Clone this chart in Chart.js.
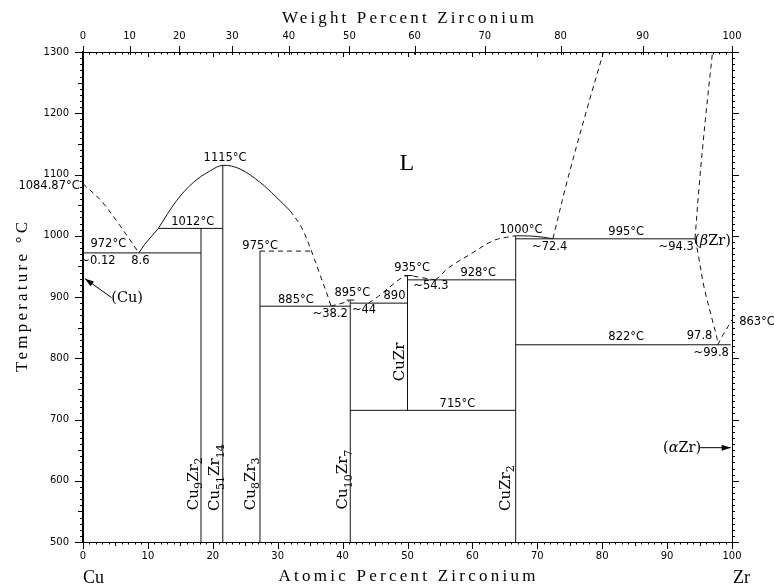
<!DOCTYPE html>
<html>
<head>
<meta charset="utf-8">
<script src="https://cdn.jsdelivr.net/npm/chart.js@4.4.1/dist/chart.umd.min.js"></script>
<style>
html, body { margin: 0; padding: 0; background: #fff; }
#wrap { width: 774px; height: 587px; }
</style>
</head>
<body>
<div id="wrap"><canvas id="c" width="774" height="587"></canvas></div>
<script>
// Cu-Zr phase diagram
// x = atomic percent Zr, y = temperature in degC
var atTicks = [0, 10, 20, 30, 40, 50, 60, 70, 80, 90, 100];
var wtTicks = [0, 10, 20, 30, 40, 50, 60, 70, 80, 90, 100];
var tempTicks = [500, 600, 700, 800, 900, 1000, 1100, 1200, 1300];

// phase boundaries, [at% Zr, degC]
var liqCu = [[0, 1084.87], [2.8, 1057], [5.6, 1018], [8.6, 972]];
var liqCu9 = [[8.6, 972], [9.5, 986], [11.6, 1012]];
var liqDome = [[11.6, 1012], [14.4, 1057], [17, 1087], [19.6, 1106], [21.54, 1115], [24.2, 1109], [27.3, 1087], [29.6, 1065], [31.9, 1041]];
var liqDomeDash = [[31.9, 1041], [33.7, 1013], [35.2, 975], [36.5, 937], [37.8, 899], [38.2, 885]];
var liq38 = [[38.2, 885], [39.6, 889], [41, 893]];
var liqCuZr = [[44, 890], [45.5, 901], [47.8, 921], [49.2, 932], [50, 935], [51.5, 933], [53, 930], [54.3, 928]];
var liqCuZr2 = [[54.3, 928], [55.1, 935], [56.1, 946], [59.7, 970], [63.2, 992], [65.3, 997.5], [66.67, 1000]];
var liqCuZr2b = [[66.67, 1000], [69, 999.5], [71, 997.5], [72.4, 995]];
var liqMid = [[72.4, 995], [74.6, 1089], [77.2, 1190], [80.2, 1300]];
var liqZr = [[94.3, 995], [95, 1089], [95.9, 1190], [97, 1300]];
var solvBeta = [[94.3, 995], [94.7, 975], [95.7, 916], [97, 861], [97.7, 832], [97.8, 822]];
var transus = [[97.8, 822], [98.6, 838], [99.4, 852], [100, 863]];

// horizontal reaction lines, [from at%, to at%, degC]
var isoSolid = [[0, 18.18, 972], [11.6, 21.54, 1012], [27.27, 41.18, 885], [40.6, 41.8, 895], [41.18, 50, 890],
  [49.5, 50.8, 935], [50, 66.67, 928], [41.18, 66.67, 715], [66.67, 94.3, 995], [66.67, 99.8, 822]];
var isoDashed = [[27.27, 35.2, 975]];

// intermediate compounds
var compNames = ["Cu_{9}Zr_{2}", "Cu_{51}Zr_{14}", "Cu_{8}Zr_{3}", "Cu_{10}Zr_{7}", "CuZr", "CuZr_{2}"];
var compX = [18.18, 21.54, 27.27, 41.18, 50, 66.67];
var compBottom = [500, 500, 500, 500, 715, 500];
var compTop = [1012, 1115, 975, 895, 935, 1000];
var compLabelAt = [[16.85, 595], [20.2, 605], [25.6, 595], [39.9, 602], [48.7, 794], [64.9, 588]];

// temperature / composition notes, [text, at%, degC, align]
var notes = [
  ["1084.87°C", -0.5, 1082, "right"], ["1115°C", 21.9, 1127], ["1012°C", 16.9, 1023], ["972°C", 3.9, 986],
  ["~0.12", 2.3, 959], ["8.6", 8.85, 959], ["975°C", 27.3, 983], ["885°C", 32.8, 895], ["~38.2", 38.1, 873],
  ["895°C", 41.5, 906], ["~44", 43.3, 878], ["890", 48.0, 901], ["935°C", 50.7, 947], ["~54.3", 53.6, 918],
  ["928°C", 60.9, 938.5], ["1000°C", 67.5, 1009], ["~72.4", 71.9, 982], ["995°C", 83.7, 1005.5],
  ["~94.3", 91.4, 982], ["822°C", 83.7, 835], ["97.8", 95.0, 836], ["~99.8", 96.8, 809],
  ["863°C", 101.1, 859.4, "left"], ["715°C", 57.7, 726]
];
var phaseLabels = [["L", 49.9, 1121], ["(Cu)", 6.8, 900], ["(*α*Zr)", 92.3, 655], ["(*β*Zr)", 97.0, 993]];
var arrows = [[[4.4, 899], [0.3, 930]], [[95.1, 654], [99.8, 654]]];

function wtToAt(w) {
  if (w >= 100) return 100;
  var a = w / 91.224;
  var b = (100 - w) / 63.546;
  return 100 * a / (a + b);
}

function toPts(arr) {
  return arr.map(function (p) { return { x: p[0], y: p[1] }; });
}

var datasets = [];
function addLine(pts, dashed, curved) {
  datasets.push({
    data: toPts(pts),
    showLine: true,
    pointRadius: 0,
    borderWidth: 1,
    borderColor: "#111",
    borderDash: dashed ? [5, 4] : [],
    tension: curved ? 0.35 : 0,
    fill: false
  });
}
addLine(liqCu, true, true);
addLine(liqCu9, false, false);
addLine(liqDome, false, true);
addLine(liqDomeDash, true, true);
addLine(liq38, true, true);
addLine(liqCuZr, true, true);
addLine(liqCuZr2, true, true);
addLine(liqCuZr2b, false, true);
addLine(liqMid, true, true);
addLine(liqZr, true, true);
addLine(solvBeta, true, true);
addLine(transus, true, false);
isoSolid.forEach(function (r) { addLine([[r[0], r[2]], [r[1], r[2]]], false, false); });
isoDashed.forEach(function (r) { addLine([[r[0], r[2]], [r[1], r[2]]], true, false); });
for (var i = 0; i < compX.length; i++) {
  addLine([[compX[i], compBottom[i]], [compX[i], compTop[i]]], false, false);
}

var tickFont = { family: "DejaVu Sans", size: 10 };

// parse "Cu_{9}Zr_{2}" and "(*α*Zr)" into runs
function parseRuns(s) {
  var re = /_\{([^}]*)\}|\*([^*]*)\*|([^_*]+)/g;
  var out = [];
  var m;
  while ((m = re.exec(s)) !== null) {
    if (m[1] !== undefined) out.push({ t: m[1], sub: true });
    else if (m[2] !== undefined) out.push({ t: m[2], it: true });
    else out.push({ t: m[3] });
  }
  return out;
}

function drawRuns(ctx, s, size, family, align) {
  var runs = parseRuns(s);
  var subSize = Math.round(size * 0.72);
  var total = 0;
  runs.forEach(function (r) {
    ctx.font = (r.it ? "italic " : "") + (r.sub ? subSize : size) + "px " + family;
    r.w = ctx.measureText(r.t).width;
    total += r.w;
  });
  var x = align === "left" ? 0 : (align === "right" ? -total : -total / 2);
  var base = size * 0.36;
  ctx.textAlign = "left";
  ctx.textBaseline = "alphabetic";
  runs.forEach(function (r) {
    ctx.font = (r.it ? "italic " : "") + (r.sub ? subSize : size) + "px " + family;
    ctx.fillText(r.t, x, base + (r.sub ? size * 0.3 : 0));
    x += r.w;
  });
}

function spacedText(ctx, text, cx, baseY, target) {
  ctx.letterSpacing = "0px";
  var w0 = ctx.measureText(text).width;
  var ls = (target - w0) / (text.length - 1);
  ctx.letterSpacing = ls + "px";
  ctx.textAlign = "left";
  ctx.textBaseline = "alphabetic";
  ctx.fillText(text, cx - target / 2, baseY);
  ctx.letterSpacing = "0px";
}

var minorTicks = {
  id: "minorTicks",
  afterDraw: function (chart) {
    var ctx = chart.ctx;
    var sx = chart.scales.x, sy = chart.scales.y;
    var a = chart.chartArea;
    ctx.save();
    ctx.strokeStyle = "#000";
    ctx.lineWidth = 1;
    ctx.beginPath();
    for (var v = 0; v <= 100; v++) {
      var x = Math.round(sx.getPixelForValue(v)) + 0.5;
      var len = v % 10 === 0 ? 7 : (v % 5 === 0 ? 4 : 2.5);
      ctx.moveTo(x, a.bottom);
      ctx.lineTo(x, a.bottom + len);
      var lt = v % 10 === 0 ? 5 : 2.5;
      ctx.moveTo(x, a.top);
      ctx.lineTo(x, a.top + lt);
    }
    wtTicks.forEach(function (w) {
      var x = Math.round(sx.getPixelForValue(wtToAt(w))) + 0.5;
      ctx.moveTo(x, a.top - 6);
      ctx.lineTo(x, a.top + 3);
    });
    for (var t = 500; t <= 1300; t += 10) {
      var y = Math.round(sy.getPixelForValue(t)) + 0.5;
      var l = t % 100 === 0 ? 8 : (t % 50 === 0 ? 5 : 3);
      ctx.moveTo(a.left, y);
      ctx.lineTo(a.left - l, y);
      var r = t % 100 === 0 ? 7 : 3;
      ctx.moveTo(a.right, y);
      ctx.lineTo(a.right + r, y);
    }
    ctx.stroke();
    ctx.restore();
  }
};

var annotations = {
  id: "annotations",
  afterDraw: function (chart) {
    var ctx = chart.ctx;
    var sx = chart.scales.x, sy = chart.scales.y;
    ctx.save();
    ctx.fillStyle = "#000";
    ctx.strokeStyle = "#000";

    notes.forEach(function (n) {
      ctx.font = "11.5px 'DejaVu Sans'";
      ctx.textAlign = n[3] || "center";
      ctx.textBaseline = "middle";
      ctx.fillText(n[0], sx.getPixelForValue(n[1]), sy.getPixelForValue(n[2]));
    });

    phaseLabels.forEach(function (p) {
      ctx.save();
      ctx.translate(sx.getPixelForValue(p[1]), sy.getPixelForValue(p[2]));
      if (p[0] === "L") drawRuns(ctx, p[0], 24, "'Liberation Serif'", "center");
      else drawRuns(ctx, p[0], 14.5, "'DejaVu Serif'", "center");
      ctx.restore();
    });

    compNames.forEach(function (name, i) {
      ctx.save();
      ctx.translate(sx.getPixelForValue(compLabelAt[i][0]), sy.getPixelForValue(compLabelAt[i][1]));
      ctx.rotate(-Math.PI / 2);
      drawRuns(ctx, name, 15, "'DejaVu Serif'", "center");
      ctx.restore();
    });

    arrows.forEach(function (ar) {
      var x1 = sx.getPixelForValue(ar[0][0]), y1 = sy.getPixelForValue(ar[0][1]);
      var x2 = sx.getPixelForValue(ar[1][0]), y2 = sy.getPixelForValue(ar[1][1]);
      ctx.lineWidth = 1;
      ctx.beginPath();
      ctx.moveTo(x1, y1);
      ctx.lineTo(x2, y2);
      ctx.stroke();
      var ang = Math.atan2(y2 - y1, x2 - x1);
      ctx.save();
      ctx.translate(x2, y2);
      ctx.rotate(ang);
      ctx.beginPath();
      ctx.moveTo(0, 0);
      ctx.lineTo(-9, -3);
      ctx.lineTo(-9, 3);
      ctx.closePath();
      ctx.fill();
      ctx.restore();
    });

    // axis titles and element symbols
    ctx.font = "17px 'Liberation Serif'";
    spacedText(ctx, "Weight Percent Zirconium", 408, 23, 252);
    spacedText(ctx, "Atomic Percent Zirconium", 407, 581, 257);
    ctx.save();
    ctx.translate(27, 297);
    ctx.rotate(-Math.PI / 2);
    ctx.font = "17px 'Liberation Serif'";
    spacedText(ctx, "Temperature °C", 0, 0, 150);
    ctx.restore();
    ctx.font = "18px 'Liberation Serif'";
    ctx.textAlign = "left";
    ctx.textBaseline = "alphabetic";
    ctx.fillText("Cu", 83, 583);
    ctx.fillText("Zr", 733, 583);
    ctx.restore();
  }
};

var chart = new Chart(document.getElementById("c"), {
  type: "scatter",
  data: { datasets: datasets },
  plugins: [minorTicks, annotations],
  options: {
    responsive: false,
    animation: false,
    devicePixelRatio: 1,
    layout: { padding: 0 },
    plugins: { legend: { display: false }, tooltip: { enabled: false } },
    scales: {
      x: {
        type: "linear", position: "bottom", min: 0, max: 100,
        afterBuildTicks: function (s) { s.ticks = atTicks.map(function (v) { return { value: v }; }); },
        afterFit: function (s) { s.height = 45; },
        ticks: {
          font: tickFont, color: "#000", padding: 2, maxRotation: 0, autoSkip: false,
          callback: function (v) { return String(v); }
        },
        grid: { display: false, drawTicks: true, tickLength: 6 },
        border: { display: true, color: "#000", width: 1 }
      },
      x2: {
        type: "linear", position: "top", min: 0, max: 100,
        afterBuildTicks: function (s) { s.ticks = wtTicks.map(function (w) { return { value: wtToAt(w) }; }); },
        afterFit: function (s) { s.height = 52; },
        ticks: {
          font: tickFont, color: "#000", padding: 4, maxRotation: 0, autoSkip: false,
          callback: function (v, i) { return String(wtTicks[i]); }
        },
        grid: { display: false, drawTicks: true, tickLength: 6 },
        border: { display: true, color: "#000", width: 1 }
      },
      y: {
        type: "linear", position: "left", min: 500, max: 1300,
        afterBuildTicks: function (s) { s.ticks = tempTicks.map(function (v) { return { value: v }; }); },
        afterFit: function (s) { s.width = 83; },
        ticks: {
          font: tickFont, color: "#000", padding: 6, autoSkip: false,
          callback: function (v) { return String(v); }
        },
        grid: { display: false, drawTicks: true, tickLength: 8 },
        border: { display: true, color: "#000", width: 2 }
      },
      y2: {
        type: "linear", position: "right", min: 500, max: 1300,
        afterFit: function (s) { s.width = 42; },
        ticks: { display: false },
        grid: { display: false },
        border: { display: true, color: "#000", width: 1 }
      }
    }
  }
});
</script>
</body>
</html>
